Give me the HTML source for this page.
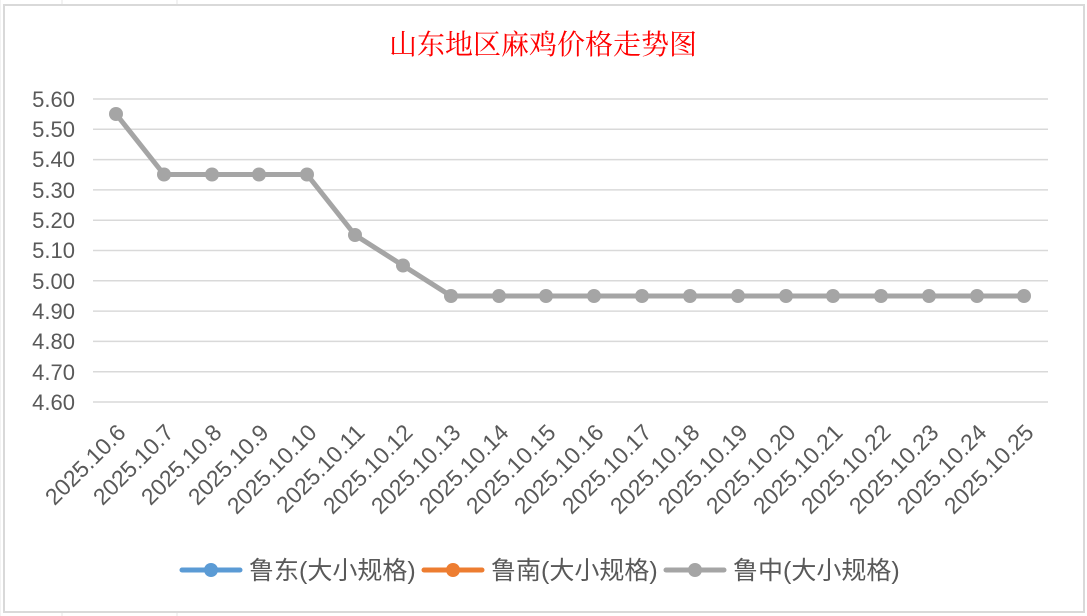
<!DOCTYPE html>
<html><head><meta charset="utf-8"><style>
body{margin:0;background:#fff;}
svg{display:block;font-family:"Liberation Sans","Noto Sans CJK SC",sans-serif;}
</style></head><body>
<svg width="1087" height="616" viewBox="0 0 1087 616">
<g stroke="#e6e6e6" stroke-width="1">
<line x1="0" y1="0" x2="0" y2="616"/>
<line x1="62" y1="0" x2="62" y2="4"/>
<line x1="177" y1="0" x2="177" y2="4"/>
<line x1="62" y1="612" x2="62" y2="616"/>
<line x1="177" y1="612" x2="177" y2="616"/>
</g>
<rect x="4" y="5" width="1080" height="607" fill="#fff" stroke="#d9d9d9" stroke-width="2"/>
<text x="543" y="54" text-anchor="middle" fill="#ff0000" font-size="28" font-family="'Noto Serif CJK SC','Liberation Serif',serif">山东地区麻鸡价格走势图</text>
<g stroke="#d9d9d9" stroke-width="1.5">
<line x1="93" x2="1048" y1="99" y2="99"/><line x1="93" x2="1048" y1="129.3" y2="129.3"/>
<line x1="93" x2="1048" y1="159.6" y2="159.6"/><line x1="93" x2="1048" y1="189.9" y2="189.9"/>
<line x1="93" x2="1048" y1="220.2" y2="220.2"/><line x1="93" x2="1048" y1="250.5" y2="250.5"/>
<line x1="93" x2="1048" y1="280.8" y2="280.8"/><line x1="93" x2="1048" y1="311.1" y2="311.1"/>
<line x1="93" x2="1048" y1="341.4" y2="341.4"/><line x1="93" x2="1048" y1="371.7" y2="371.7"/>
<line x1="93" x2="1048" y1="402" y2="402"/>
</g>
<g fill="#595959" font-size="22" text-anchor="end">
<text x="75" y="107">5.60</text><text x="75" y="137">5.50</text><text x="75" y="167">5.40</text>
<text x="75" y="198">5.30</text><text x="75" y="228">5.20</text><text x="75" y="258">5.10</text>
<text x="75" y="289">5.00</text><text x="75" y="319">4.90</text><text x="75" y="349">4.80</text>
<text x="75" y="380">4.70</text><text x="75" y="410">4.60</text>
</g>
<polyline fill="none" stroke="#a5a5a5" stroke-width="5" stroke-linejoin="round" points="116,114 164,174.5 212,174.5 259,174.5 307,174.5 355,235 403,265.5 451,296 499,296 546,296 594,296 642,296 690,296 738,296 786,296 833,296 881,296 929,296 977,296 1024,296"/>
<g fill="#a5a5a5">
<circle cx="116" cy="114" r="7"/><circle cx="164" cy="174.5" r="7"/><circle cx="212" cy="174.5" r="7"/><circle cx="259" cy="174.5" r="7"/><circle cx="307" cy="174.5" r="7"/><circle cx="355" cy="235" r="7"/><circle cx="403" cy="265.5" r="7"/><circle cx="451" cy="296" r="7"/><circle cx="499" cy="296" r="7"/><circle cx="546" cy="296" r="7"/><circle cx="594" cy="296" r="7"/><circle cx="642" cy="296" r="7"/><circle cx="690" cy="296" r="7"/><circle cx="738" cy="296" r="7"/><circle cx="786" cy="296" r="7"/><circle cx="833" cy="296" r="7"/><circle cx="881" cy="296" r="7"/><circle cx="929" cy="296" r="7"/><circle cx="977" cy="296" r="7"/><circle cx="1024" cy="296" r="7"/>
</g>
<g fill="#595959" font-size="23" text-anchor="end">
<text transform="translate(127,434) rotate(-45)">2025.10.6</text>
<text transform="translate(175,434) rotate(-45)">2025.10.7</text>
<text transform="translate(223,434) rotate(-45)">2025.10.8</text>
<text transform="translate(270,434) rotate(-45)">2025.10.9</text>
<text transform="translate(318,434) rotate(-45)">2025.10.10</text>
<text transform="translate(366,434) rotate(-45)">2025.10.11</text>
<text transform="translate(414,434) rotate(-45)">2025.10.12</text>
<text transform="translate(462,434) rotate(-45)">2025.10.13</text>
<text transform="translate(510,434) rotate(-45)">2025.10.14</text>
<text transform="translate(557,434) rotate(-45)">2025.10.15</text>
<text transform="translate(605,434) rotate(-45)">2025.10.16</text>
<text transform="translate(653,434) rotate(-45)">2025.10.17</text>
<text transform="translate(701,434) rotate(-45)">2025.10.18</text>
<text transform="translate(749,434) rotate(-45)">2025.10.19</text>
<text transform="translate(797,434) rotate(-45)">2025.10.20</text>
<text transform="translate(844,434) rotate(-45)">2025.10.21</text>
<text transform="translate(892,434) rotate(-45)">2025.10.22</text>
<text transform="translate(940,434) rotate(-45)">2025.10.23</text>
<text transform="translate(988,434) rotate(-45)">2025.10.24</text>
<text transform="translate(1035,434) rotate(-45)">2025.10.25</text>
</g>
<g stroke-width="5" stroke-linecap="round">
<line x1="182" y1="570" x2="240" y2="570" stroke="#5b9bd5"/>
<line x1="424" y1="570" x2="482" y2="570" stroke="#ed7d31"/>
<line x1="666" y1="570" x2="724" y2="570" stroke="#a5a5a5"/>
</g>
<circle cx="211" cy="570" r="7" fill="#5b9bd5"/>
<circle cx="453" cy="570" r="7" fill="#ed7d31"/>
<circle cx="695" cy="570" r="7" fill="#a5a5a5"/>
<g fill="#595959" font-size="25">
<text x="249" y="579">鲁东(大小规格)</text>
<text x="491" y="579">鲁南(大小规格)</text>
<text x="733" y="579">鲁中(大小规格)</text>
</g>
</svg>
</body></html>
